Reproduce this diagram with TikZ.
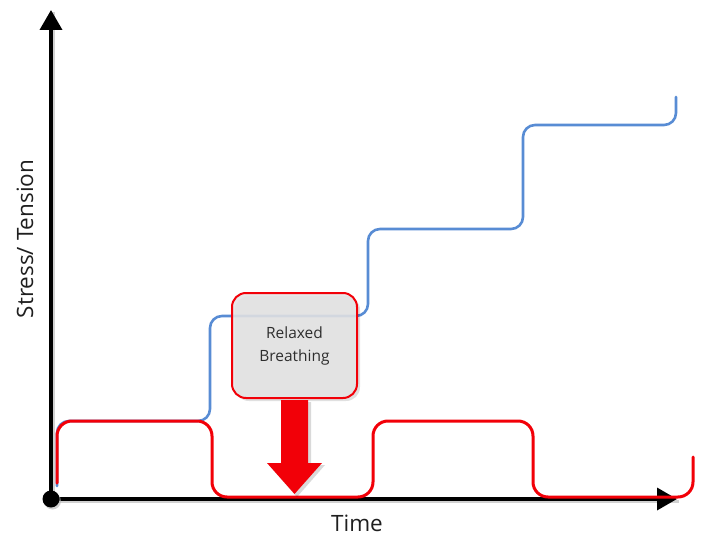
\documentclass[tikz,border=0pt]{standalone}
\usepackage{fontspec}
\setmainfont{Open Sans}
\usetikzlibrary{arrows.meta}
\definecolor{stepblue}{RGB}{88,140,212}
\definecolor{calmred}{RGB}{242,0,8}
\tikzset{
  axisline/.style={line width=3.6pt, black},
  axisshadow/.style={line width=3.6pt, black, opacity=0.18},
  bluecurve/.style={line width=2.6pt, stepblue, rounded corners=12pt, line cap=round},
  redcurve/.style={line width=3pt, calmred, rounded corners=15pt, line cap=round},
  relaxbox/.style={draw=calmred, line width=2pt, fill=black!10, fill opacity=0.88, text opacity=1,
    rounded corners=14pt, minimum width=125pt, minimum height=105pt, align=center,
    font=\fontsize{15.5}{23}\selectfont, text=black!82},
  axislabel/.style={font=\fontsize{22.5}{26}\selectfont, text=black!88}
}
\begin{document}
\begin{tikzpicture}[x=1pt,y=-1pt]
\useasboundingbox (0,0) rectangle (702,535);
% coordinates
\coordinate (O) at (51,499);
\coordinate (Ytip) at (51,10);
\coordinate (Xtip) at (677,499);
% axes shadows
\draw[axisshadow] ([shift={(2,2.5)}]O) -- ([shift={(2,2.5)}]Xtip);
\draw[axisshadow] ([shift={(2,2.5)}]O) -- ([shift={(2,2.5)}]Ytip);
% blue stepped curve
\draw[bluecurve] (57,486) -- (57,421) -- (210,421) -- (210,316) -- (368,316) -- (368,229) -- (523,229) -- (523,125) -- (676,125) -- (676,97);
% axes
\draw[axisline,-{Triangle[length=20pt,width=22pt]}] (O) -- (Xtip);
\draw[axisline,-{Triangle[length=20pt,width=22pt]}] (O) -- (Ytip);
\fill[black!30, opacity=0.6] ([shift={(1.5,2)}]O) circle (8.5pt);
\fill[black] (O) circle (8.5pt);
% red curve
\draw[redcurve] (57,483) -- (57,421) -- (212,421) -- (212,497) -- (373,497) -- (373,421) -- (533,421) -- (533,497) -- (693,497) -- (693,457);
% box shadow and box
\fill[black, opacity=0.12, rounded corners=14pt] (235,296) rectangle (360,401);
\node[relaxbox] (box) at (294.5,345.5) {Relaxed\\Breathing};
% red down arrow
\fill[black, opacity=0.15] ([shift={(2,2)}]box.south) ++(-13.5,1) -- ++(0,63) -- ++(-14,0) -- ++(28,32) -- ++(28,-32) -- ++(-14,0) -- ++(0,-63) -- cycle;
\fill[calmred] (box.south) ++(-13.5,1) coordinate (aTL) -- ++(0,63) -- ++(-14,0) -- ++(27.5,31) coordinate (aTip) -- ++(27.5,-31) -- ++(-14,0) -- ++(0,-63) -- cycle;
% labels
\node[axislabel, rotate=90] (ylab) at (25,239) {Stress/ Tension};
\node[axislabel] (xlab) at (357,523) {Time};
\end{tikzpicture}
\end{document}
